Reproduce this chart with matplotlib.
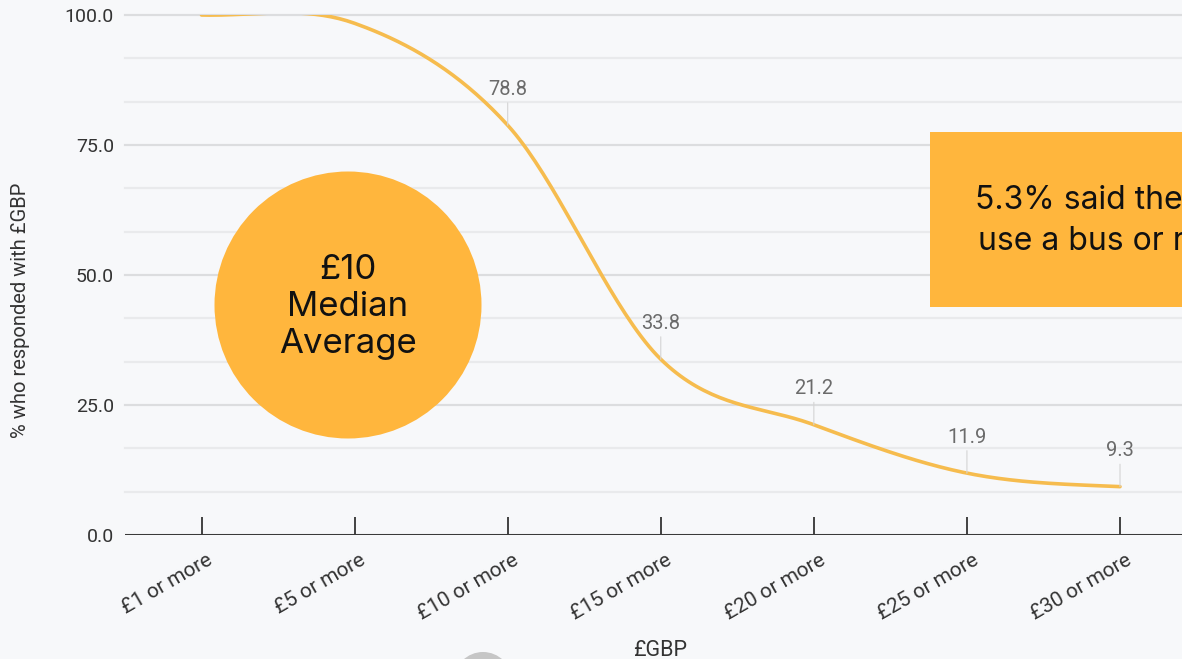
import matplotlib
matplotlib.use("Agg")
import matplotlib.pyplot as plt
import matplotlib.patches as mpatches
import matplotlib.transforms as mtransforms
import numpy as np

# data
categories = ["£1 or more", "£5 or more", "£10 or more", "£15 or more",
              "£20 or more", "£25 or more", "£30 or more"]
values = [100.0, 98.4, 78.8, 33.8, 21.2, 11.9, 9.3]
labelled = [False, False, True, True, True, True, True]
y_ticks = [0, 25, 50, 75, 100]

ORANGE = "#FFB63D"
LINE = "#F6BC4E"
BG = "#F7F8FA"

plt.rcParams["font.family"] = ["Roboto", "DejaVu Sans"]


def smooth_curve(x, y, steps=40):
    # catmull-rom style spline through the points, only for drawing
    x = np.asarray(x, float)
    y = np.asarray(y, float)
    n = len(x)
    t = np.zeros(n)
    t[0] = (y[1] - y[0]) / 2
    t[-1] = (y[-1] - y[-2]) / 2
    for i in range(1, n - 1):
        t[i] = (y[i + 1] - y[i - 1]) / 2
    xs, ys = [], []
    for i in range(n - 1):
        u = np.linspace(0, 1, steps)
        h00 = 2 * u**3 - 3 * u**2 + 1
        h10 = u**3 - 2 * u**2 + u
        h01 = -2 * u**3 + 3 * u**2
        h11 = u**3 - u**2
        xs.append(x[i] + u * (x[i + 1] - x[i]))
        ys.append(h00 * y[i] + h10 * t[i] + h01 * y[i + 1] + h11 * t[i + 1])
    return np.concatenate(xs), np.concatenate(ys)


W, H = 1182, 659
fig = plt.figure(figsize=(W / 100, H / 100), dpi=100, facecolor=BG)
ax = fig.add_axes([125 / W, 1 - 535 / H, 1 - 125 / W, (535 - 15) / H])
ax.set_facecolor(BG)

xpos = np.arange(len(categories))
ax.set_xlim(-0.5, 6.405)
ax.set_ylim(0, 100)

# grid: major every 25, two faint lines in between
for v in np.arange(0, 100.1, 25 / 3):
    if v == 0:
        continue
    major = abs(v / 25 - round(v / 25)) < 1e-6
    ax.axhline(v, color="#DCDDDF" if major else "#E9EAEC", lw=1.6, zorder=1, clip_on=False)
ax.axhline(0, color="#3A3A3A", lw=2.2, zorder=3)

cx, cy = smooth_curve(xpos, values)
ax.plot(cx, cy, color=LINE, lw=2.6, zorder=4, solid_capstyle="round")

for i, (v, show) in enumerate(zip(values, labelled)):
    if not show:
        continue
    ax.annotate(f"{v:.1f}", (xpos[i], v), xytext=(0, 26), textcoords="offset points",
                ha="center", va="center", fontsize=14.5, color="#6B6B6B",
                arrowprops=dict(arrowstyle="-", color="#D4D4D4", lw=0.8, shrinkA=1, shrinkB=0),
                zorder=5)

for side in ax.spines.values():
    side.set_visible(False)

ax.set_yticks(y_ticks)
ax.set_yticklabels([f"{t:.1f}" for t in y_ticks], fontsize=14, color="#333333")
ax.tick_params(axis="y", length=0, pad=8)

ax.set_xticks(xpos)
ax.set_xticklabels(categories, rotation=30, ha="right", rotation_mode="anchor",
                   fontsize=15, color="#333333")
ax.tick_params(axis="x", direction="in", length=13, width=1.3, color="#333333", pad=3)
shift = mtransforms.ScaledTranslation(0.05, -0.11, fig.dpi_scale_trans)
for lab in ax.get_xticklabels():
    lab.set_transform(lab.get_transform() + shift)

fig.text(21 / W, 1 - 310 / H, "% who responded with £GBP", rotation=90,
         ha="center", va="center", fontsize=14.5, color="#333333")
fig.text(660 / W, 1 - 650 / H, "£GBP", ha="center", va="center",
         fontsize=15.5, color="#333333")

# callouts
inch = fig.dpi_scale_trans
circle = mpatches.Circle((3.48, (H - 305) / 100), 1.335, transform=inch,
                         facecolor=ORANGE, edgecolor="none", zorder=10)
fig.add_artist(circle)
fig.text(348 / W, 1 - 307 / H, "£10\nMedian\nAverage", ha="center", va="center",
         fontsize=25, family=["Inter", "DejaVu Sans"], color="#111111",
         linespacing=1.2, zorder=11)

box = mpatches.Rectangle((9.30, (H - 307) / 100), 3.0, 1.75, transform=inch,
                         facecolor=ORANGE, edgecolor="none", zorder=10)
fig.add_artist(box)
fig.text(975 / W, 1 - 200 / H, "5.3% said they would not", ha="left", va="center",
         fontsize=23, family=["Inter", "DejaVu Sans"], color="#111111", zorder=11)
fig.text(978 / W, 1 - 241 / H, "use a bus or rail service", ha="left", va="center",
         fontsize=23, family=["Inter", "DejaVu Sans"], color="#111111", zorder=11)

knob = mpatches.Circle((4.83, -0.22), 0.29, transform=inch,
                       facecolor="#C6C6C6", edgecolor="none", zorder=10)
fig.add_artist(knob)

fig.savefig("out.png", dpi=100, facecolor=BG)
